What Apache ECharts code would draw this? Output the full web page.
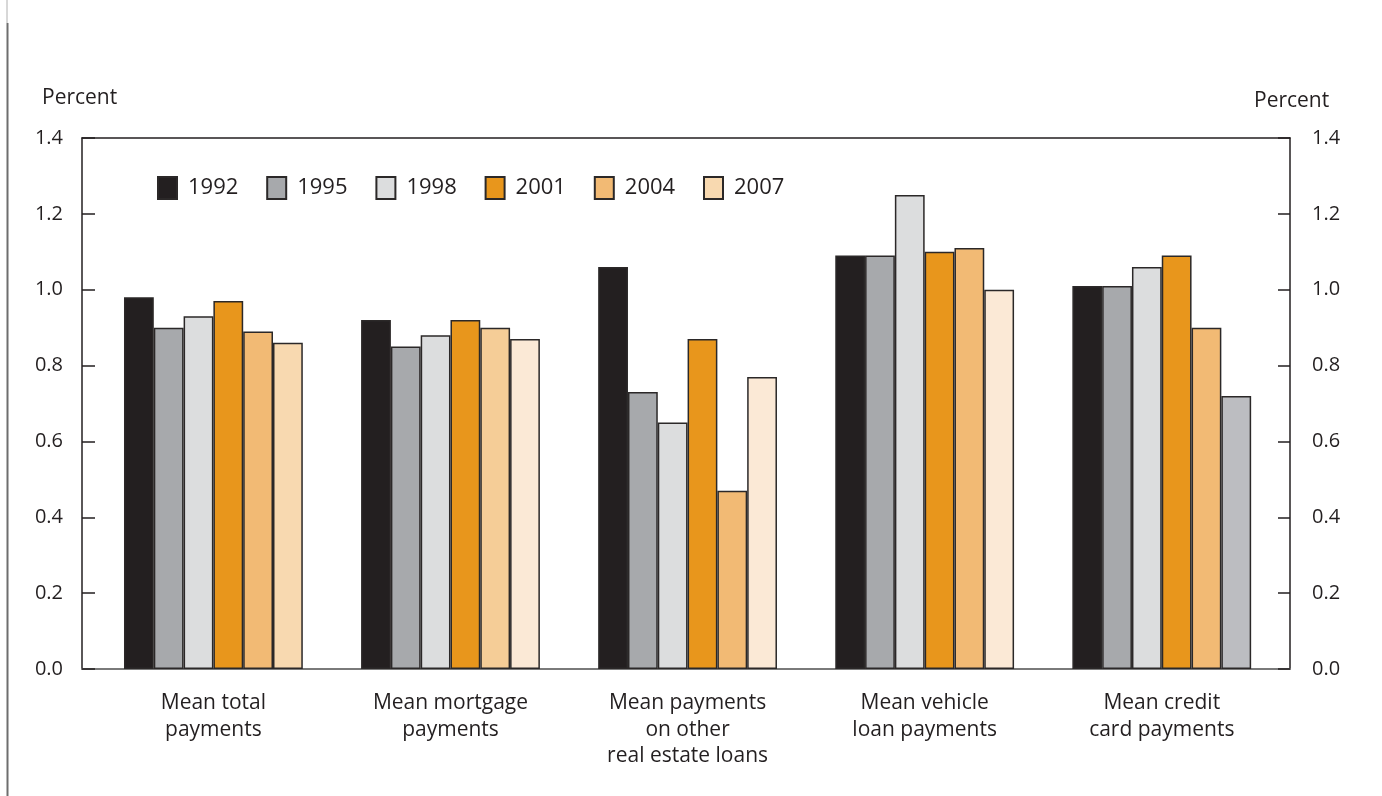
<!DOCTYPE html>
<html>
<head>
<meta charset="utf-8">
<script src="https://cdn.jsdelivr.net/npm/echarts@6/dist/echarts.min.js"></script>
<style>
html,body{margin:0;padding:0;background:#fff;}
#chart{width:1382px;height:796px;}
</style>
</head>
<body>
<div id="chart"></div>
<script>
const categories = ['Mean total\npayments', 'Mean mortgage\npayments', 'Mean payments\non other\nreal estate loans', 'Mean vehicle\nloan payments', 'Mean credit\ncard payments'];
const years = ['1992', '1995', '1998', '2001', '2004', '2007'];
const v1992 = [0.98, 0.92, 1.06, 1.09, 1.01];
const v1995 = [0.90, 0.85, 0.73, 1.09, 1.01];
const v1998 = [0.93, 0.88, 0.65, 1.25, 1.06];
const v2001 = [0.97, 0.92, 0.87, 1.10, 1.09];
const v2004 = [0.89, 0.90, 0.47, 1.11, 0.90];
const v2007 = [0.86, 0.87, 0.77, 1.00, 0.72];
const yMin = 0, yMax = 1.4, yStep = 0.2;

// styles (kept apart from the data)
const baseColors = ['#231F20', '#A7A9AC', '#DCDDDE', '#E8961C', '#F2BA74', '#F8D9B0'];
const overrideColors = { '4-1': '#F5CD97', '5-1': '#FBE9D6', '5-2': '#FBE9D6', '5-3': '#FBE9D6', '5-4': '#BCBDC1' };
const FONT = "'Open Sans', 'Liberation Sans', sans-serif";
const TXT = '#231F20';

const values = [v1992, v1995, v1998, v2001, v2004, v2007];

const chart = echarts.init(document.getElementById('chart'), null, { renderer: 'canvas' });

const series = years.map((y, si) => ({
  name: y,
  type: 'bar',
  xAxisIndex: 2,
  yAxisIndex: 2,
  barWidth: 29.8,
  barGap: '0%',
  itemStyle: { color: baseColors[si], borderColor: '#2b2828', borderWidth: 1.5 },
  emphasis: { disabled: true },
  data: values[si].map((v, ci) => {
    const k = si + '-' + ci;
    return overrideColors[k] ? { value: v, itemStyle: { color: overrideColors[k] } } : v;
  })
}));

const legends = years.map((y, i) => ({
  data: [y],
  left: 157 + i * 109.2,
  top: 176,
  padding: 0,
  itemWidth: 19,
  itemHeight: 22,
  icon: 'rect',
  selectedMode: false,
  textStyle: { fontFamily: FONT, fontSize: 22, color: TXT, padding: [0, 0, 0, 6] }
}));

const valueAxisBase = {
  type: 'value', min: yMin, max: yMax, interval: yStep,
  splitLine: { show: false }
};

chart.setOption({
  animation: false,
  backgroundColor: '#fff',
  grid: [
    { left: 82, right: 92, top: 138, bottom: 127 },
    { left: 82, right: 92, top: 138, bottom: 127 },
    { left: 94.85, right: 101.7, top: 138, bottom: 127 }
  ],
  legend: legends,
  xAxis: [
    { gridIndex: 0, type: 'category', data: [''], position: 'bottom',
      axisLine: { show: true, onZero: false, lineStyle: { color: '#7a7a7a', width: 2 } },
      axisTick: { show: false }, axisLabel: { show: false } },
    { gridIndex: 1, type: 'category', data: [''], position: 'top',
      axisLine: { show: true, onZero: false, lineStyle: { color: '#231F20', width: 1.5 } },
      axisTick: { show: false }, axisLabel: { show: false } },
    { gridIndex: 2, type: 'category', data: categories,
      axisLine: { show: false }, axisTick: { show: false },
      axisLabel: { interval: 0, margin: 21, fontFamily: FONT, fontSize: 21, lineHeight: 26.5, color: TXT, align: 'center' } }
  ],
  yAxis: [
    Object.assign({}, valueAxisBase, { gridIndex: 0, position: 'left',
      axisLine: { show: true, lineStyle: { color: '#231F20', width: 1.5 } },
      axisTick: { show: true, inside: true, length: 13, lineStyle: { color: '#231F20', width: 1.5 } },
      axisLabel: { margin: 19, fontFamily: FONT, fontSize: 20, color: TXT, formatter: v => v.toFixed(1) } }),
    Object.assign({}, valueAxisBase, { gridIndex: 1, position: 'right',
      axisLine: { show: true, lineStyle: { color: '#231F20', width: 1.5 } },
      axisTick: { show: true, inside: true, length: 12, lineStyle: { color: '#231F20', width: 1.5 } },
      axisLabel: { margin: 22, fontFamily: FONT, fontSize: 20, color: TXT, formatter: v => v.toFixed(1) } }),
    Object.assign({}, valueAxisBase, { gridIndex: 2, show: false })
  ],
  series: series,
  graphic: [
    { type: 'line', shape: { x1: 7.5, y1: 23, x2: 7.5, y2: 796 }, style: { stroke: '#6e6e6e', lineWidth: 2 } },
    { type: 'line', shape: { x1: 7, y1: 0, x2: 7, y2: 23 }, style: { stroke: '#b0b0b0', lineWidth: 1 } },
    { type: 'text', left: 42, top: 88, style: { text: 'Percent', font: '21px ' + FONT, fill: TXT } },
    { type: 'text', left: 1254, top: 91, style: { text: 'Percent', font: '21px ' + FONT, fill: TXT } }
  ]
});
</script>
</body>
</html>
